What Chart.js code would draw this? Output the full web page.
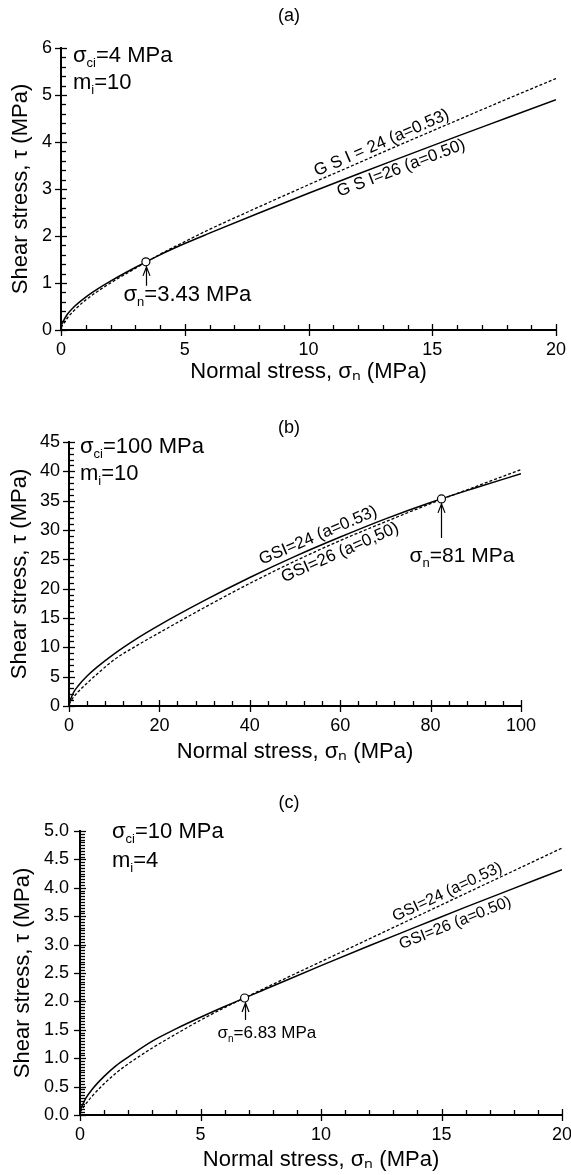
<!DOCTYPE html>
<html lang="en">
<head>
<meta charset="UTF-8">
<title>Hoek-Brown envelopes, GSI 24 vs 26</title>
<script src="https://cdn.jsdelivr.net/npm/chart.js"></script>
<style>
  body { margin: 0; background: #fff; }
  .panel { position: absolute; left: 0; width: 571px; }
  canvas { display: block; }
</style>
</head>
<body>
<div class="panel" style="top:0px"><canvas id="chartA" width="571" height="390"></canvas></div>
<div class="panel" style="top:390px"><canvas id="chartB" width="571" height="390"></canvas></div>
<div class="panel" style="top:780px"><canvas id="chartC" width="571" height="395"></canvas></div>
<script>
// (a) sigma_ci = 4 MPa, mi = 10
const sigmaA = [0, 0.25, 0.5, 1, 1.5, 2, 3, 4, 5, 6, 8, 10, 12, 14, 16, 18, 20];
const tauA26 = [0.10, 0.33, 0.48, 0.70, 0.88, 1.04, 1.33, 1.60, 1.84, 2.06, 2.49, 2.91, 3.32, 3.72, 4.12, 4.51, 4.90];
const tauA24 = [0.05, 0.25, 0.40, 0.64, 0.83, 1.00, 1.31, 1.61, 1.88, 2.14, 2.62, 3.09, 3.55, 4.01, 4.46, 4.91, 5.35];
const crossA = [3.43, 1.45];

// (b) sigma_ci = 100 MPa, mi = 10
const sigmaB = [0, 1, 2, 4, 6, 10, 15, 20, 30, 40, 50, 60, 70, 80, 90, 100];
const tauB26 = [0.5, 2.3, 3.4, 5.1, 6.5, 8.9, 11.5, 13.8, 18.0, 21.9, 25.5, 28.8, 31.9, 34.7, 37.2, 39.6];
const tauB24 = [0.3, 1.5, 2.4, 3.9, 5.3, 7.9, 10.3, 12.5, 16.8, 20.9, 24.7, 28.2, 31.4, 34.5, 37.4, 40.3];
const crossB = [82.4, 35.3];

// (c) sigma_ci = 10 MPa, mi = 4
const sigmaC = [0, 0.25, 0.5, 1, 1.5, 2, 3, 4, 5, 6, 8, 10, 12, 14, 16, 18, 20];
const tauC26 = [0.08, 0.30, 0.45, 0.68, 0.87, 1.02, 1.30, 1.52, 1.72, 1.91, 2.27, 2.63, 2.98, 3.32, 3.66, 3.99, 4.32];
const tauC24 = [0.05, 0.20, 0.33, 0.55, 0.74, 0.90, 1.18, 1.43, 1.67, 1.89, 2.30, 2.70, 3.10, 3.50, 3.90, 4.30, 4.70];
const crossC = [6.83, 2.06];

const FONT = '"Liberation Sans", Arial, Helvetica, sans-serif';
Chart.defaults.font.family = FONT;
Chart.defaults.color = '#000';

function toXY(xs, ys) {
  return xs.map((x, i) => ({ x: x, y: ys[i] }));
}

function interp(xs, ys, x) {
  for (let i = 1; i < xs.length; i++) {
    if (x <= xs[i]) {
      const t = (x - xs[i - 1]) / (xs[i] - xs[i - 1]);
      return ys[i - 1] + t * (ys[i] - ys[i - 1]);
    }
  }
  return ys[ys.length - 1];
}

// text with subscripts: parts = [[text, isSub], ...]
function drawParts(ctx, parts, x, y, size) {
  let cx = x;
  ctx.textAlign = 'left';
  ctx.textBaseline = 'alphabetic';
  parts.forEach(([t, sub]) => {
    ctx.font = (sub ? Math.round(size * 0.6) : size) + 'px ' + FONT;
    ctx.fillText(t, cx, sub ? y + size * 0.22 : y);
    cx += ctx.measureText(t).width;
  });
}

// label that follows a curve, rotated along its slope
function curveLabel(ctx, chart, xs, ys, lab) {
  const sx = chart.scales.x, sy = chart.scales.y;
  const px = v => [sx.getPixelForValue(v), sy.getPixelForValue(interp(xs, ys, v))];
  const a = px(lab.at - lab.span / 2), b = px(lab.at + lab.span / 2);
  const ang = Math.atan2(b[1] - a[1], b[0] - a[0]);
  const c = px(lab.at);
  ctx.save();
  ctx.translate(c[0] - Math.sin(ang) * lab.off, c[1] + Math.cos(ang) * lab.off);
  ctx.rotate(ang);
  ctx.font = lab.size + 'px ' + FONT;
  ctx.textAlign = 'center';
  ctx.textBaseline = 'middle';
  ctx.fillText(lab.text, 0, 0);
  ctx.restore();
}

function drawTicks(ctx, chart, t) {
  const sx = chart.scales.x, sy = chart.scales.y;
  const { left, bottom } = chart.chartArea;
  ctx.save();
  ctx.strokeStyle = '#000';
  ctx.lineWidth = 1.3;
  const isMajor = (v, m) => Math.abs(v / m - Math.round(v / m)) < 1e-6;
  let n = Math.round((sx.max - sx.min) / t.xMinor);
  for (let i = 0; i <= n; i++) {
    const v = sx.min + i * t.xMinor;
    const p = Math.round(sx.getPixelForValue(v)) + 0.5;
    const major = isMajor(v, t.xMajor);
    ctx.beginPath();
    ctx.moveTo(p, bottom + (major ? 6 : 1));
    ctx.lineTo(p, bottom - (major ? 6 : 5));
    ctx.stroke();
  }
  n = Math.round((sy.max - sy.min) / t.yMinor);
  for (let i = 0; i <= n; i++) {
    const v = sy.min + i * t.yMinor;
    const p = Math.round(sy.getPixelForValue(v)) + 0.5;
    const major = isMajor(v, t.yMajor);
    ctx.beginPath();
    ctx.moveTo(left - (major ? 6 : 1), p);
    ctx.lineTo(left + (major ? 6 : 5), p);
    ctx.stroke();
  }
  ctx.restore();
}

const annotations = {
  id: 'annotations',
  afterDatasetsDraw(chart, args, o) {
    const ctx = chart.ctx;
    ctx.save();
    ctx.fillStyle = '#000';
    ctx.strokeStyle = '#000';
    drawTicks(ctx, chart, o.ticks);

    // panel letter
    ctx.font = '18px ' + FONT;
    ctx.textAlign = 'center';
    ctx.textBaseline = 'middle';
    ctx.fillText(o.letter, o.letterPos[0], o.letterPos[1]);

    // parameters
    drawParts(ctx, [['σ', 0], ['ci', 1], ['=' + o.sci + ' MPa', 0]], o.param[0], o.param[1], 22);
    drawParts(ctx, [['m', 0], ['i', 1], ['=' + o.mi, 0]], o.param[0], o.param[2], 22);

    // curve labels
    o.labels.forEach(l => curveLabel(ctx, chart, l.xs, l.ys, l));

    // arrow to the crossing point
    const ds = chart.data.datasets[0].data[0];
    const cx = Math.round(chart.scales.x.getPixelForValue(ds.x)) + 0.5;
    const cy = chart.scales.y.getPixelForValue(ds.y);
    ctx.lineWidth = 1.2;
    ctx.beginPath();
    ctx.moveTo(cx, cy + 5);
    ctx.lineTo(cx, cy + o.arrow.len);
    ctx.moveTo(cx - 3.5, cy + 14);
    ctx.lineTo(cx, cy + 5);
    ctx.lineTo(cx + 3.5, cy + 14);
    ctx.stroke();
    drawParts(ctx, [['σ', 0], ['n', 1], ['=' + o.arrow.text + ' MPa', 0]],
      cx + o.arrow.dx, cy + o.arrow.dy, o.arrow.size);
    ctx.restore();
  }
};

function buildPanel(id, p) {
  return new Chart(document.getElementById(id), {
    type: 'line',
    data: {
      datasets: [
        { label: 'crossing', data: [{ x: p.cross[0], y: p.cross[1] }], showLine: false, order: 0,
          pointRadius: 4, pointBackgroundColor: '#fff', pointBorderColor: '#000', pointBorderWidth: 1.2 },
        { label: 'GSI=24 (a=0.53)', data: toXY(p.sigma, p.tau24), order: 1,
          borderColor: '#000', borderWidth: 1.3, borderDash: [3, 2], pointRadius: 0,
          cubicInterpolationMode: 'monotone', fill: false },
        { label: 'GSI=26 (a=0.50)', data: toXY(p.sigma, p.tau26), order: 2,
          borderColor: '#000', borderWidth: 1.5, pointRadius: 0,
          cubicInterpolationMode: 'monotone', fill: false }
      ]
    },
    options: {
      responsive: false,
      animation: false,
      events: [],
      layout: { padding: { left: 0, top: p.top, right: 571 - p.right, bottom: 0 } },
      plugins: {
        legend: { display: false },
        tooltip: { enabled: false },
        annotations: p.notes
      },
      scales: {
        x: {
          type: 'linear', min: p.xRange[0], max: p.xRange[1],
          grid: { display: false, drawTicks: false },
          border: { display: true, color: '#000', width: 2 },
          ticks: { stepSize: p.xStep, padding: 9, autoSkip: false, maxRotation: 0, font: { size: 18 } },
          title: { display: true, text: 'Normal stress, σₙ (MPa)', font: { size: 22 },
                   padding: { top: 0, bottom: p.xTitlePad } },
          // keep the plot width fixed even when the last label reaches the edge
          afterFit: s => { s.height = p.xHeight; s.paddingLeft = 0; s.paddingRight = 0; }
        },
        y: {
          type: 'linear', min: p.yRange[0], max: p.yRange[1],
          grid: { display: false, drawTicks: false },
          border: { display: true, color: '#000', width: 2 },
          ticks: { stepSize: p.yStep, padding: p.yLabelPad, autoSkip: false, font: { size: 18 },
                   callback: v => p.yDigits ? v.toFixed(p.yDigits) : v },
          title: { display: true, text: 'Shear stress, τ (MPa)', font: { size: 22 },
                   padding: { top: p.yTitlePad, bottom: 0 } },
          afterFit: s => { s.width = p.left; }
        }
      }
    },
    plugins: [annotations]
  });
}

buildPanel('chartA', {
  sigma: sigmaA, tau26: tauA26, tau24: tauA24, cross: crossA,
  xRange: [0, 20], xStep: 5, yRange: [0, 6], yStep: 1, yDigits: 0,
  left: 61, right: 556, top: 48, xHeight: 60, xTitlePad: 5, yTitlePad: 8, yLabelPad: 9,
  notes: {
    letter: '(a)', letterPos: [289, 16], sci: '4', mi: '10', param: [73, 62, 89],
    ticks: { xMinor: 1, xMajor: 5, yMinor: 0.2, yMajor: 1 },
    arrow: { len: 24, dx: -23, dy: 39, size: 22, text: '3.43' },
    labels: [
      { text: 'G S I = 24 (a=0.53)', xs: sigmaA, ys: tauA24, at: 13.1, span: 4, off: -9, size: 17 },
      { text: 'G S I=26 (a=0.50)', xs: sigmaA, ys: tauA26, at: 13.6, span: 4, off: 10, size: 17 }
    ]
  }
});

buildPanel('chartB', {
  sigma: sigmaB, tau26: tauB26, tau24: tauB24, cross: crossB,
  xRange: [0, 100], xStep: 20, yRange: [0, 45], yStep: 5, yDigits: 0,
  left: 69, right: 521, top: 52, xHeight: 74, xTitlePad: 15, yTitlePad: 7, yLabelPad: 9,
  notes: {
    letter: '(b)', letterPos: [289, 38], sci: '100', mi: '10', param: [80, 63, 90],
    ticks: { xMinor: 4, xMajor: 20, yMinor: 1, yMajor: 5 },
    arrow: { len: 39, dx: -32, dy: 63, size: 21, text: '81' },
    labels: [
      { text: 'GSI=24 (a=0.53)', xs: sigmaB, ys: tauB26, at: 56, span: 20, off: -10, size: 17 },
      { text: 'GSI=26 (a=0,50)', xs: sigmaB, ys: tauB24, at: 59, span: 20, off: 11, size: 17 }
    ]
  }
});

buildPanel('chartC', {
  sigma: sigmaC, tau26: tauC26, tau24: tauC24, cross: crossC,
  xRange: [0, 20], xStep: 5, yRange: [0, 5], yStep: 0.5, yDigits: 1,
  left: 80, right: 562, top: 51, xHeight: 60, xTitlePad: 2, yTitlePad: 10, yLabelPad: 11,
  notes: {
    letter: '(c)', letterPos: [289, 23], sci: '10', mi: '4', param: [112, 58, 87],
    ticks: { xMinor: 1, xMajor: 5, yMinor: 0.05, yMajor: 0.5 },
    arrow: { len: 22, dx: -28, dy: 40, size: 17, text: '6.83' },
    labels: [
      { text: 'GSI=24 (a=0.53)', xs: sigmaC, ys: tauC24, at: 15.4, span: 4, off: -9, size: 16 },
      { text: 'GSI=26 (a=0.50)', xs: sigmaC, ys: tauC26, at: 15.4, span: 4, off: 11, size: 16 }
    ]
  }
});
</script>
</body>
</html>
